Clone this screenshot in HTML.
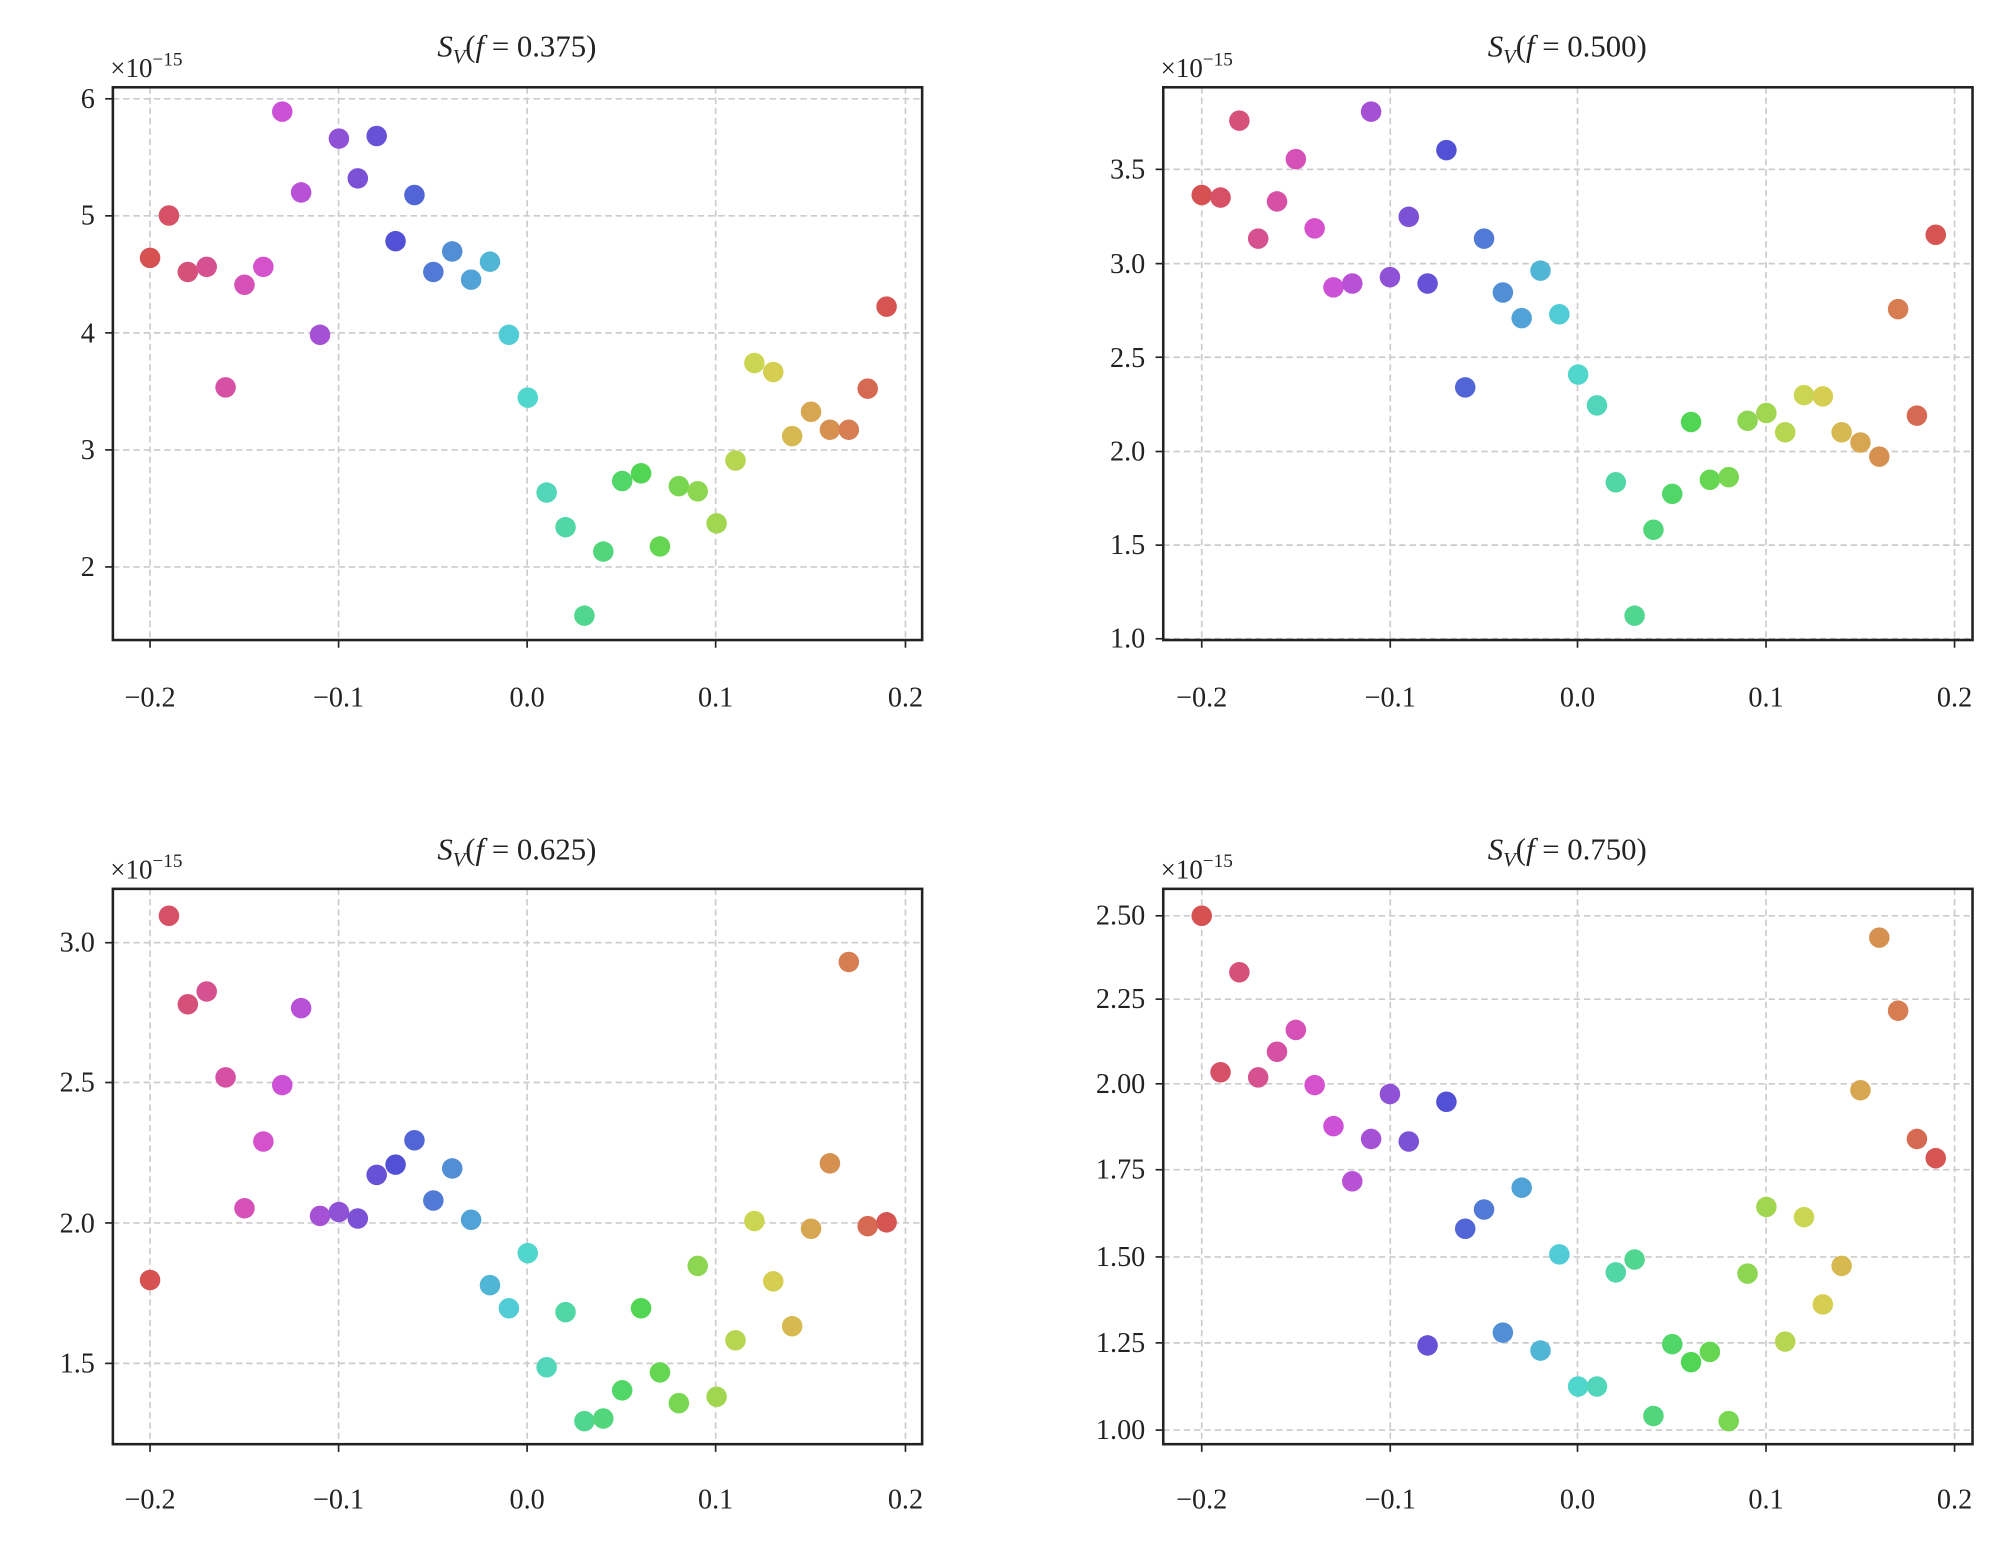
<!DOCTYPE html>
<html><head><meta charset="utf-8"><style>
html,body{margin:0;padding:0;background:#fff}
svg{display:block}
text{font-family:"Liberation Serif","DejaVu Serif",serif;fill:#222}
</style></head><body>
<svg id="s" width="2011" height="1543" viewBox="0 0 1568 1203" xmlns="http://www.w3.org/2000/svg">
<g id="g"></g>
<g font-size="24" text-anchor="middle">
<text x="403" y="44"><tspan font-style="italic">S</tspan><tspan font-size="16" font-style="italic" dy="5">V</tspan><tspan dy="-5">(</tspan><tspan font-style="italic">f</tspan> = 0.375)</text>
<text x="1222" y="44"><tspan font-style="italic">S</tspan><tspan font-size="16" font-style="italic" dy="5">V</tspan><tspan dy="-5">(</tspan><tspan font-style="italic">f</tspan> = 0.500)</text>
<text x="403" y="670"><tspan font-style="italic">S</tspan><tspan font-size="16" font-style="italic" dy="5">V</tspan><tspan dy="-5">(</tspan><tspan font-style="italic">f</tspan> = 0.625)</text>
<text x="1222" y="670"><tspan font-style="italic">S</tspan><tspan font-size="16" font-style="italic" dy="5">V</tspan><tspan dy="-5">(</tspan><tspan font-style="italic">f</tspan> = 0.750)</text>
</g>
<g font-size="21">
<text x="86" y="60">×10<tspan font-size="15" dy="-9">−15</tspan></text>
<text x="905" y="60">×10<tspan font-size="15" dy="-9">−15</tspan></text>
<text x="86" y="685">×10<tspan font-size="15" dy="-9">−15</tspan></text>
<text x="905" y="685">×10<tspan font-size="15" dy="-9">−15</tspan></text>
</g>
<g font-size="22" text-anchor="middle">
<text x="117" y="551">−0.2</text><text x="264" y="551">−0.1</text><text x="411" y="551">0.0</text><text x="558" y="551">0.1</text><text x="706" y="551">0.2</text>
<text x="937" y="551">−0.2</text><text x="1084" y="551">−0.1</text><text x="1230" y="551">0.0</text><text x="1377" y="551">0.1</text><text x="1524" y="551">0.2</text>
<text x="117" y="1176">−0.2</text><text x="264" y="1176">−0.1</text><text x="411" y="1176">0.0</text><text x="558" y="1176">0.1</text><text x="706" y="1176">0.2</text>
<text x="937" y="1176">−0.2</text><text x="1084" y="1176">−0.1</text><text x="1230" y="1176">0.0</text><text x="1377" y="1176">0.1</text><text x="1524" y="1176">0.2</text>
</g>
<g font-size="22" text-anchor="end">
<text x="74" y="449">2</text><text x="74" y="358">3</text><text x="74" y="267">4</text><text x="74" y="175">5</text><text x="74" y="84">6</text>
<text x="893" y="505">1.0</text><text x="893" y="432">1.5</text><text x="893" y="359">2.0</text><text x="893" y="286">2.5</text><text x="893" y="213">3.0</text><text x="893" y="139">3.5</text>
<text x="74" y="1070">1.5</text><text x="74" y="961">2.0</text><text x="74" y="851">2.5</text><text x="74" y="742">3.0</text>
<text x="893" y="1122">1.00</text><text x="893" y="1054">1.25</text><text x="893" y="987">1.50</text><text x="893" y="919">1.75</text><text x="893" y="852">2.00</text><text x="893" y="786">2.25</text><text x="893" y="721">2.50</text>
</g>
</svg>
<script>
var NS="http://www.w3.org/2000/svg",g=document.getElementById("g");
function el(n,a){var e=document.createElementNS(NS,n);for(var k in a)e.setAttribute(k,a[k]);g.appendChild(e);return e;}
var P=[
{x0:88,x1:719,y0:68,y1:499,xt:[117,264,411,558,706],yt:[442,350.75,259.5,168.25,77],xs:117,dx:14.725,
ys:[201,168,212,208,302,222,208,87,150,261,108,139,106,188,152,212,196,218,204,261,310,384,411,480,430,375,369,426,379,383,408,359,283,290,340,321,335,335,303,239]},
{x0:907,x1:1538,y0:68,y1:499,xt:[937,1084,1230,1377,1524],yt:[498,425,352,278.5,205.5,132],xs:937,dx:14.675,
ys:[152,154,94,186,157,124,178,224,221,87,216,169,221,117,302,186,228,248,211,245,292,316,376,480,413,385,329,374,372,328,322,337,308,309,337,345,356,241,324,183]},
{x0:88,x1:719,y0:693,y1:1126,xt:[117,264,411,558,706],yt:[1063,953.5,844,735],xs:117,dx:14.725,
ys:[998,714,783,773,840,942,890,846,786,948,945,950,916,908,889,936,911,951,1002,1020,977,1066,1023,1108,1106,1084,1020,1070,1094,987,1089,1045,952,999,1034,958,907,750,956,953]},
{x0:907,x1:1538,y0:693,y1:1126,xt:[937,1084,1230,1377,1524],yt:[1115,1047,980,912,845,779,714],xs:937,dx:14.675,
ys:[714,836,758,840,820,803,846,878,921,888,853,890,1049,859,958,943,1039,926,1053,978,1081,1081,992,982,1104,1048,1062,1054,1108,993,941,1046,949,1017,987,850,731,788,888,903]}
];
P.forEach(function(p){
 p.xt.forEach(function(x){el("line",{x1:x,x2:x,y1:p.y0,y2:p.y1,stroke:"#ccc","stroke-width":1.3,"stroke-dasharray":"5,3"});
  el("line",{x1:x,x2:x,y1:p.y1,y2:p.y1+6,stroke:"#222","stroke-width":1.3});});
 p.yt.forEach(function(y){el("line",{x1:p.x0,x2:p.x1,y1:y,y2:y,stroke:"#ccc","stroke-width":1.3,"stroke-dasharray":"5,3"});
  el("line",{x1:p.x0-6,x2:p.x0,y1:y,y2:y,stroke:"#222","stroke-width":1.3});});
 p.ys.forEach(function(y,i){var h=(360-i*9.2+360)%360;
  el("circle",{cx:p.xs+i*p.dx,cy:y,r:8,fill:"hsl("+h+",62%,58%)"});});
 el("rect",{x:p.x0,y:p.y0,width:p.x1-p.x0,height:p.y1-p.y0,fill:"none",stroke:"#222","stroke-width":2});
});
</script>
</body></html>
